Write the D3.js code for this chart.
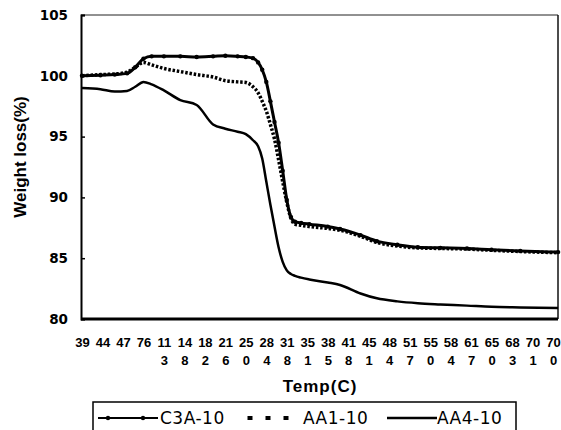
<!DOCTYPE html>
<html>
<head>
<meta charset="utf-8">
<script src="https://cdn.jsdelivr.net/npm/d3@7"></script>
<style>
body { margin: 0; background: #fff; }
</style>
</head>
<body>
<div id="chart"></div>
<script>
// temperature labels shown on the category axis
var tempLabels = ["39","44","47","76","113","148","182","216","250","284","318","351",
	"385","418","451","484","517","550","584","617","650","683","701","700"];

// sample positions along the category axis (label index units)
var pos = [0, 0.9, 1.6, 2.2, 2.6, 3.0, 3.4, 4.0, 4.8, 5.6, 6.4, 7.0, 7.6, 8.0, 8.35, 8.6,
	8.8, 9.0, 9.2, 9.4, 9.6, 9.8, 10.0, 10.2, 10.4, 10.7, 11.1, 12.0, 12.6, 13.6, 14.4,
	15.4, 16.4, 17.5, 18.8, 20, 21.4, 23.25];

var c3a = [100.0, 100.05, 100.1, 100.2, 100.7, 101.4, 101.6, 101.6, 101.6, 101.55, 101.6,
	101.65, 101.6, 101.55, 101.45, 101.1, 100.5, 99.5, 97.9, 96.2, 94.5, 92.2, 89.8, 88.4,
	88.0, 87.9, 87.8, 87.6, 87.4, 86.9, 86.4, 86.1, 85.9, 85.85, 85.8, 85.7, 85.6, 85.5];

var aa1 = [100.0, 100.1, 100.15, 100.3, 100.7, 101.1, 100.9, 100.6, 100.35, 100.1, 99.9,
	99.6, 99.5, 99.45, 99.1, 98.6, 97.9, 97.1, 96.0, 94.8, 93.1, 91.3, 89.6, 88.3, 87.8,
	87.7, 87.6, 87.45, 87.3, 86.8, 86.3, 86.0, 85.85, 85.8, 85.75, 85.65, 85.55, 85.45];

var aa4 = [99.0, 98.9, 98.7, 98.75, 99.1, 99.5, 99.3, 98.8, 98.0, 97.6, 96.0, 95.65, 95.4,
	95.2, 94.7, 94.2, 93.2, 91.3, 89.4, 87.6, 85.9, 84.7, 84.0, 83.7, 83.55, 83.4, 83.25,
	83.0, 82.8, 82.1, 81.7, 81.45, 81.3, 81.2, 81.1, 81.0, 80.95, 80.9];

var yTicks = [80, 85, 90, 95, 100, 105];
var seriesNames = ["C3A-10", "AA1-10", "AA4-10"];

var width = 561, height = 430;
var plotLeft = 81, plotRight = 558, plotTop = 15, plotBottom = 319;

var svg = d3.select("#chart").append("svg")
	.attr("width", width)
	.attr("height", height);

var x = d3.scaleLinear().domain([0, tempLabels.length - 1]).range([82, 553]);
var y = d3.scaleLinear().domain([80, 105]).range([plotBottom, plotTop]);

// plot frame
svg.append("line").attr("x1", plotLeft).attr("x2", plotRight).attr("y1", plotTop).attr("y2", plotTop)
	.attr("stroke", "#222").attr("stroke-width", 1);
svg.append("line").attr("x1", plotRight).attr("x2", plotRight).attr("y1", plotTop).attr("y2", plotBottom)
	.attr("stroke", "#111").attr("stroke-width", 1.5);

// y axis
var yAxis = svg.append("g")
	.attr("transform", "translate(" + plotLeft + ",0)")
	.call(d3.axisLeft(y).tickValues(yTicks).tickSize(-4).tickPadding(13));
yAxis.select(".domain").attr("stroke", "#000").attr("stroke-width", 2);
yAxis.selectAll(".tick line").attr("stroke", "#000").attr("stroke-width", 1.5);
yAxis.selectAll("text")
	.attr("font-family", "DejaVu Sans")
	.attr("font-weight", "bold")
	.attr("font-size", "13.5px")
	.attr("fill", "#000");

// x axis, labels wrap after two digits
var xAxis = svg.append("g")
	.attr("transform", "translate(0," + plotBottom + ")")
	.call(d3.axisBottom(x).tickValues(d3.range(tempLabels.length)).tickSize(0));
xAxis.select(".domain").remove();
svg.append("line").attr("x1", plotLeft).attr("x2", plotRight).attr("y1", plotBottom).attr("y2", plotBottom)
	.attr("stroke", "#000").attr("stroke-width", 3);
xAxis.selectAll("text")
	.attr("font-family", "Liberation Sans, Arial")
	.attr("font-weight", "bold")
	.attr("font-size", "13px")
	.attr("fill", "#000")
	.attr("y", 0)
	.attr("dy", null)
	.text(null)
	.each(function(d){
		var t = d3.select(this), lab = tempLabels[d];
		t.append("tspan").attr("x", 0).attr("y", 28).text(lab.slice(0, 2));
		if (lab.length > 2) t.append("tspan").attr("x", 0).attr("y", 46).text(lab.slice(2));
	});

// titles
svg.append("text")
	.attr("transform", "translate(26,157) rotate(-90)")
	.attr("text-anchor", "middle")
	.attr("font-family", "Liberation Sans, Arial")
	.attr("font-weight", "bold")
	.attr("font-size", "17px")
	.text("Weight loss(%)");

svg.append("text")
	.attr("x", 320).attr("y", 392)
	.attr("text-anchor", "middle")
	.attr("font-family", "Liberation Sans, Arial")
	.attr("font-weight", "bold")
	.attr("font-size", "17px")
	.attr("letter-spacing", "1px")
	.text("Temp(C)");

// series lines
var line = d3.line()
	.x(function(d, i){ return x(pos[i]); })
	.y(function(d){ return y(d); })
	.curve(d3.curveMonotoneX);

svg.append("path").datum(aa4).attr("d", line)
	.attr("fill", "none").attr("stroke", "#000").attr("stroke-width", 2.5)
	.attr("stroke-linejoin", "round");

svg.append("path").datum(aa1).attr("d", line)
	.attr("fill", "none").attr("stroke", "#000").attr("stroke-width", 3.5)
	.attr("stroke-dasharray", "2.5,1.8");

svg.append("path").datum(c3a).attr("d", line)
	.attr("fill", "none").attr("stroke", "#000").attr("stroke-width", 3)
	.attr("stroke-linejoin", "round");

svg.selectAll(".c3aDot")
	.data(c3a)
	.enter()
	.append("circle")
	.attr("class", "c3aDot")
	.attr("cx", function(d, i){ return x(pos[i]); })
	.attr("cy", function(d){ return y(d); })
	.attr("r", 2.2)
	.attr("fill", "#000");

// legend
var lg = svg.append("g");
lg.append("rect")
	.attr("x", 93).attr("y", 402).attr("width", 423).attr("height", 34)
	.attr("fill", "none").attr("stroke", "#000").attr("stroke-width", 1.5);

lg.append("line").attr("x1", 98).attr("x2", 158).attr("y1", 418).attr("y2", 418)
	.attr("stroke", "#000").attr("stroke-width", 2);
lg.selectAll(".lgDot").data([108, 143]).enter().append("circle")
	.attr("cx", function(d){ return d; }).attr("cy", 418).attr("r", 2.2).attr("fill", "#000");

lg.append("line").attr("x1", 247.5).attr("x2", 289).attr("y1", 418).attr("y2", 418)
	.attr("stroke", "#000").attr("stroke-width", 4).attr("stroke-dasharray", "5,13");

lg.append("line").attr("x1", 387).attr("x2", 437).attr("y1", 418).attr("y2", 418)
	.attr("stroke", "#000").attr("stroke-width", 2.5);

lg.selectAll(".lgText").data(seriesNames).enter().append("text")
	.attr("x", function(d, i){ return [160, 303, 437][i]; })
	.attr("y", 424)
	.attr("font-family", "DejaVu Sans")
	.attr("font-size", "17px")
	.attr("letter-spacing", "0.5px")
	.text(function(d){ return d; });
</script>
</body>
</html>
